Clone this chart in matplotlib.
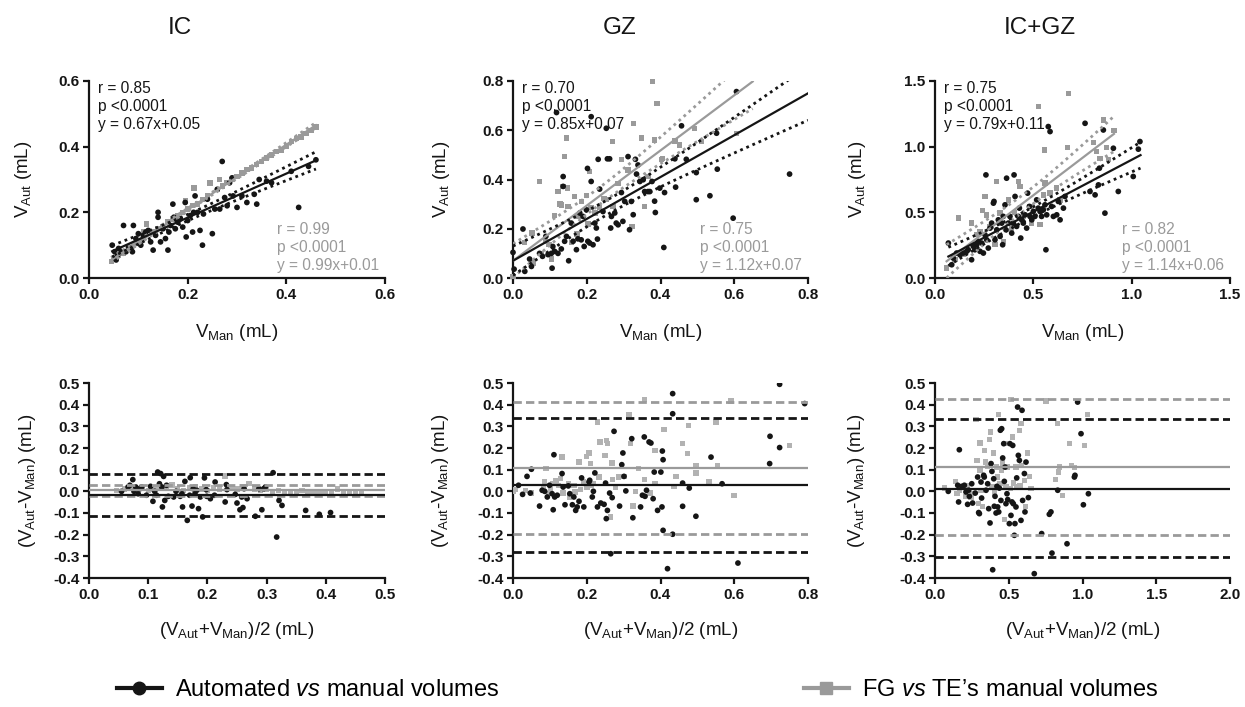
import numpy as np
import matplotlib
matplotlib.use('Agg')
import matplotlib.pyplot as plt
from matplotlib.lines import Line2D

plt.rcParams['font.family'] = ['Liberation Sans', 'DejaVu Sans']
plt.rcParams['mathtext.fontset'] = 'custom'
plt.rcParams['mathtext.rm'] = 'Liberation Sans'
plt.rcParams['mathtext.it'] = 'Liberation Sans:italic'
plt.rcParams['mathtext.bf'] = 'Liberation Sans:bold'
plt.rcParams['axes.unicode_minus'] = False

# ---------------- data ----------------
titles = ["IC", "GZ", "IC+GZ"]

# correlation panels: (V_Man, V_Aut)
ic_auto = [(0.047, 0.10), (0.052, 0.08), (0.055, 0.055), (0.058, 0.07), (0.06, 0.09), (0.065, 0.08),
           (0.07, 0.16), (0.075, 0.08), (0.08, 0.095), (0.085, 0.09), (0.088, 0.08), (0.09, 0.16),
           (0.095, 0.12), (0.10, 0.135), (0.105, 0.10), (0.11, 0.13), (0.115, 0.14), (0.12, 0.145),
           (0.125, 0.11), (0.13, 0.085), (0.135, 0.13), (0.14, 0.20), (0.14, 0.185), (0.145, 0.11),
           (0.15, 0.15), (0.155, 0.12), (0.16, 0.085), (0.162, 0.14), (0.165, 0.16), (0.17, 0.225),
           (0.172, 0.185), (0.175, 0.15), (0.18, 0.17), (0.185, 0.18), (0.19, 0.155), (0.195, 0.23),
           (0.197, 0.125), (0.20, 0.175), (0.205, 0.19), (0.21, 0.14), (0.212, 0.20), (0.215, 0.25),
           (0.22, 0.20), (0.225, 0.145), (0.23, 0.10), (0.232, 0.195), (0.24, 0.24), (0.25, 0.135),
           (0.255, 0.21), (0.26, 0.27), (0.265, 0.21), (0.27, 0.355), (0.275, 0.245), (0.28, 0.22),
           (0.285, 0.29), (0.29, 0.305), (0.292, 0.25), (0.30, 0.215), (0.31, 0.25), (0.32, 0.23),
           (0.335, 0.255), (0.34, 0.225), (0.345, 0.30), (0.36, 0.295), (0.37, 0.29), (0.41, 0.325),
           (0.425, 0.215), (0.445, 0.34), (0.46, 0.36)]
ic_fgte = [(0.045, 0.05), (0.05, 0.06), (0.06, 0.07), (0.07, 0.075), (0.08, 0.09), (0.09, 0.10),
           (0.10, 0.11), (0.11, 0.14), (0.117, 0.165), (0.13, 0.14), (0.14, 0.15), (0.15, 0.155),
           (0.16, 0.17), (0.17, 0.18), (0.18, 0.19), (0.19, 0.20), (0.195, 0.235), (0.20, 0.21),
           (0.21, 0.22), (0.213, 0.274), (0.22, 0.225), (0.23, 0.24), (0.24, 0.25), (0.245, 0.289),
           (0.26, 0.27), (0.265, 0.30), (0.27, 0.28), (0.28, 0.29), (0.29, 0.30), (0.30, 0.31),
           (0.31, 0.32), (0.32, 0.33), (0.33, 0.335), (0.34, 0.345), (0.35, 0.355), (0.36, 0.365),
           (0.37, 0.375), (0.38, 0.385), (0.39, 0.39), (0.40, 0.40), (0.41, 0.415), (0.42, 0.425),
           (0.43, 0.43), (0.44, 0.44), (0.45, 0.45), (0.46, 0.46)]

gz_auto = [(0.0, 0.104), (0.003, 0.036), (0.027, 0.199), (0.032, 0.027), (0.045, 0.077), (0.05, 0.047),
           (0.072, 0.10), (0.08, 0.088), (0.089, 0.169), (0.095, 0.095), (0.104, 0.10), (0.106, 0.04),
           (0.108, 0.128), (0.113, 0.108), (0.118, 0.672), (0.122, 0.10), (0.131, 0.118), (0.136, 0.412),
           (0.136, 0.372), (0.14, 0.149), (0.145, 0.169), (0.151, 0.07), (0.158, 0.223), (0.163, 0.149),
           (0.172, 0.115), (0.176, 0.159), (0.181, 0.264), (0.185, 0.155), (0.19, 0.25), (0.193, 0.128),
           (0.199, 0.277), (0.202, 0.445), (0.203, 0.149), (0.208, 0.142), (0.212, 0.655), (0.212, 0.392),
           (0.217, 0.135), (0.222, 0.223), (0.226, 0.203), (0.229, 0.158), (0.231, 0.482), (0.235, 0.361),
           (0.244, 0.27), (0.253, 0.608), (0.256, 0.484), (0.262, 0.484), (0.265, 0.203), (0.267, 0.25),
           (0.276, 0.264), (0.28, 0.223), (0.285, 0.216), (0.294, 0.347), (0.298, 0.23), (0.303, 0.311),
           (0.312, 0.493), (0.316, 0.196), (0.321, 0.311), (0.326, 0.257), (0.332, 0.482), (0.335, 0.422),
           (0.339, 0.459), (0.344, 0.392), (0.353, 0.399), (0.357, 0.351), (0.366, 0.351), (0.371, 0.351),
           (0.377, 0.392), (0.384, 0.312), (0.386, 0.266), (0.398, 0.365), (0.411, 0.347), (0.409, 0.124),
           (0.439, 0.484), (0.441, 0.369), (0.457, 0.618), (0.47, 0.482), (0.497, 0.318), (0.497, 0.428),
           (0.534, 0.334), (0.552, 0.588), (0.554, 0.442), (0.597, 0.243), (0.606, 0.757), (0.75, 0.422)]
gz_fgte = [(0.0, 0.007), (0.032, 0.145), (0.052, 0.182), (0.054, 0.061), (0.072, 0.392), (0.077, 0.10),
           (0.09, 0.149), (0.098, 0.135), (0.104, 0.077), (0.113, 0.253), (0.122, 0.351), (0.127, 0.301),
           (0.131, 0.297), (0.136, 0.372), (0.14, 0.493), (0.145, 0.568), (0.147, 0.365), (0.149, 0.291),
           (0.158, 0.145), (0.167, 0.331), (0.174, 0.178), (0.176, 0.25), (0.185, 0.311), (0.199, 0.334),
           (0.203, 0.22), (0.208, 0.432), (0.212, 0.286), (0.222, 0.264), (0.235, 0.286), (0.247, 0.324),
           (0.253, 0.318), (0.269, 0.555), (0.271, 0.291), (0.285, 0.385), (0.294, 0.482), (0.312, 0.439),
           (0.326, 0.628), (0.323, 0.209), (0.348, 0.568), (0.357, 0.291), (0.366, 0.412), (0.379, 0.797),
           (0.384, 0.561), (0.391, 0.709), (0.402, 0.48), (0.406, 0.486), (0.439, 0.557), (0.452, 0.54),
           (0.493, 0.608), (0.511, 0.554), (0.606, 0.588)]

icgz_auto = [(0.068, 0.266), (0.085, 0.101), (0.093, 0.152), (0.11, 0.19), (0.127, 0.177), (0.144, 0.19),
             (0.161, 0.203), (0.169, 0.215), (0.186, 0.139), (0.195, 0.241), (0.203, 0.215), (0.212, 0.253),
             (0.22, 0.279), (0.229, 0.203), (0.237, 0.266), (0.246, 0.19), (0.254, 0.329), (0.259, 0.785),
             (0.263, 0.291), (0.271, 0.228), (0.28, 0.38), (0.288, 0.418), (0.297, 0.57), (0.3, 0.583),
             (0.305, 0.291), (0.314, 0.367), (0.322, 0.443), (0.331, 0.317), (0.339, 0.418), (0.344, 0.253),
             (0.347, 0.469), (0.356, 0.557), (0.361, 0.367), (0.364, 0.76), (0.373, 0.418), (0.381, 0.469),
             (0.39, 0.342), (0.398, 0.418), (0.402, 0.785), (0.407, 0.621), (0.415, 0.393), (0.424, 0.469),
             (0.429, 0.532), (0.436, 0.304), (0.441, 0.443), (0.449, 0.418), (0.458, 0.481), (0.466, 0.38),
             (0.471, 0.646), (0.48, 0.545), (0.483, 0.469), (0.492, 0.443), (0.5, 0.507), (0.508, 0.469),
             (0.517, 0.595), (0.525, 0.532), (0.534, 0.507), (0.542, 0.469), (0.551, 0.519), (0.559, 0.557),
             (0.564, 0.215), (0.568, 0.481), (0.576, 1.153), (0.585, 1.115), (0.593, 0.545), (0.602, 0.469),
             (0.619, 0.481), (0.627, 0.583), (0.636, 0.443), (0.653, 0.532), (0.661, 0.621), (0.763, 1.178),
             (0.788, 0.659), (0.814, 0.633), (0.831, 0.709), (0.836, 0.836), (0.864, 0.494), (0.856, 1.127),
             (0.907, 0.988), (0.932, 0.659), (1.008, 0.773), (1.034, 0.981), (1.042, 1.039)]
icgz_fgte = [(0.059, 0.076), (0.102, 0.139), (0.119, 0.456), (0.144, 0.177), (0.186, 0.418), (0.212, 0.329),
             (0.229, 0.355), (0.242, 0.512), (0.254, 0.621), (0.263, 0.481), (0.28, 0.393), (0.305, 0.253),
             (0.314, 0.735), (0.331, 0.494), (0.347, 0.279), (0.373, 0.595), (0.39, 0.38), (0.403, 0.499),
             (0.424, 0.735), (0.432, 0.697), (0.449, 0.469), (0.483, 0.545), (0.492, 0.418), (0.525, 1.305),
             (0.534, 0.405), (0.551, 0.633), (0.556, 0.975), (0.559, 0.722), (0.585, 0.646), (0.619, 0.684),
             (0.636, 0.595), (0.678, 1.406), (0.673, 0.996), (0.805, 1.031), (0.822, 0.963), (0.839, 0.912),
             (0.856, 1.203), (0.873, 0.996), (0.881, 0.9), (0.91, 1.122)]

# regression results shown on the panels: slope, intercept, r
fit_auto = [(0.67, 0.05, "0.85"), (0.85, 0.07, "0.70"), (0.79, 0.11, "0.75")]
fit_fgte = [(0.99, 0.01, "0.99"), (1.12, 0.07, "0.75"), (1.14, 0.06, "0.82")]
fit_range_auto = [(0.047, 0.46), (0.0, 0.8), (0.068, 1.045)]
fit_range_fgte = [(0.045, 0.46), (0.0, 0.65), (0.059, 0.91)]

# Bland-Altman panels: (mean, difference)
ic_ba_auto = [(0.055, 0.0), (0.066, 0.02), (0.069, 0.028), (0.074, 0.054), (0.076, 0.0), (0.079, 0.02),
              (0.083, -0.011), (0.086, 0.012), (0.089, 0.02), (0.097, -0.018), (0.104, 0.023), (0.108, -0.046),
              (0.111, 0.0), (0.114, -0.018), (0.116, 0.089), (0.119, 0.035), (0.121, 0.082), (0.123, 0.02),
              (0.124, -0.072), (0.126, 0.069), (0.128, -0.042), (0.131, 0.028), (0.134, -0.023), (0.143, -0.026),
              (0.147, 0.0), (0.154, -0.023), (0.157, -0.011), (0.158, -0.072), (0.162, 0.046), (0.166, -0.134),
              (0.17, -0.018), (0.171, 0.063), (0.174, -0.068), (0.176, 0.012), (0.179, -0.011), (0.182, 0.005),
              (0.185, -0.08), (0.188, -0.026), (0.192, -0.118), (0.195, 0.062), (0.198, 0.008), (0.199, -0.023),
              (0.205, -0.034), (0.212, -0.018), (0.213, 0.043), (0.23, -0.049), (0.232, 0.031), (0.233, 0.008),
              (0.247, -0.014), (0.25, -0.054), (0.255, -0.085), (0.258, -0.026), (0.26, -0.075), (0.262, 0.012),
              (0.267, -0.034), (0.281, -0.115), (0.287, 0.012), (0.292, -0.085), (0.295, 0.012), (0.298, 0.02),
              (0.311, 0.086), (0.317, -0.211), (0.321, -0.042), (0.326, -0.065), (0.366, -0.088), (0.389, -0.106),
              (0.408, -0.098)]
ic_ba_fgte = [(0.046, 0.005), (0.06, 0.01), (0.07, 0.02), (0.08, 0.01), (0.09, 0.015), (0.10, 0.005),
              (0.11, 0.01), (0.12, 0.02), (0.13, 0.015), (0.14, 0.03), (0.15, 0.01), (0.16, 0.005),
              (0.17, 0.015), (0.18, 0.02), (0.19, 0.01), (0.20, 0.005), (0.21, 0.015), (0.22, 0.01),
              (0.23, 0.07), (0.24, 0.015), (0.25, 0.01), (0.26, 0.02), (0.27, 0.035), (0.28, 0.01),
              (0.29, 0.005), (0.30, 0.01), (0.31, 0.0), (0.32, 0.005), (0.33, 0.0), (0.34, -0.005),
              (0.35, 0.0), (0.36, 0.005), (0.37, -0.005), (0.38, 0.0), (0.39, 0.0), (0.40, -0.005),
              (0.41, 0.0), (0.42, 0.01), (0.43, 0.0), (0.44, -0.005), (0.45, 0.0), (0.46, -0.005)]

gz_ba_auto = [(0.015, 0.028), (0.026, -0.014), (0.038, 0.069), (0.047, -0.008), (0.05, 0.102), (0.072, -0.068),
              (0.079, 0.005), (0.086, 0.0), (0.093, -0.026), (0.099, 0.028), (0.106, -0.011), (0.109, -0.085),
              (0.111, 0.169), (0.113, -0.026), (0.12, -0.018), (0.133, 0.082), (0.136, 0.02), (0.141, -0.062),
              (0.15, 0.025), (0.154, -0.011), (0.161, -0.062), (0.165, -0.026), (0.17, -0.088), (0.174, -0.072),
              (0.179, -0.046), (0.186, 0.062), (0.192, -0.072), (0.206, 0.043), (0.208, 0.051), (0.215, -0.026),
              (0.218, 0.0), (0.222, 0.085), (0.229, -0.072), (0.238, -0.054), (0.247, -0.06), (0.251, 0.038),
              (0.253, -0.126), (0.256, -0.088), (0.262, -0.008), (0.265, -0.288), (0.269, -0.029), (0.274, 0.277),
              (0.289, -0.068), (0.295, 0.123), (0.298, 0.177), (0.301, 0.069), (0.306, 0.002), (0.322, 0.243),
              (0.325, -0.122), (0.346, -0.072), (0.351, -0.018), (0.356, 0.251), (0.358, -0.023), (0.362, 0.005),
              (0.369, 0.228), (0.374, 0.223), (0.38, -0.034), (0.383, 0.089), (0.392, -0.088), (0.401, 0.089),
              (0.404, -0.072), (0.405, 0.186), (0.407, 0.146), (0.407, -0.18), (0.433, 0.451), (0.433, 0.358),
              (0.433, -0.198), (0.419, -0.357), (0.46, 0.038), (0.46, -0.069), (0.478, 0.015), (0.496, -0.115),
              (0.537, 0.158), (0.567, 0.035), (0.61, -0.331), (0.696, 0.128), (0.697, 0.254), (0.723, 0.494),
              (0.723, 0.202), (0.791, 0.405)]
gz_ba_fgte = [(0.0, 0.0), (0.006, 0.008), (0.034, 0.005), (0.05, -0.008), (0.083, 0.02), (0.086, 0.046),
              (0.09, 0.105), (0.097, -0.011), (0.102, 0.012), (0.108, 0.035), (0.117, 0.051), (0.124, 0.028),
              (0.129, 0.058), (0.133, 0.158), (0.136, -0.008), (0.151, 0.035), (0.154, -0.026), (0.165, 0.028),
              (0.168, -0.003), (0.179, 0.135), (0.183, 0.008), (0.192, 0.046), (0.199, 0.162), (0.201, 0.02),
              (0.206, 0.177), (0.21, 0.128), (0.213, 0.028), (0.219, 0.035), (0.229, 0.32), (0.233, 0.066),
              (0.236, 0.228), (0.249, 0.166), (0.253, 0.235), (0.256, 0.22), (0.265, -0.118), (0.268, 0.131),
              (0.269, 0.054), (0.278, 0.02), (0.286, 0.066), (0.301, 0.069), (0.315, 0.355), (0.319, 0.22),
              (0.325, -0.068), (0.333, 0.0), (0.34, 0.105), (0.356, 0.423), (0.356, 0.055), (0.372, -0.008),
              (0.385, 0.189), (0.385, 0.035), (0.41, 0.285), (0.437, 0.023), (0.442, 0.069), (0.46, 0.22),
              (0.473, 0.174), (0.476, 0.305), (0.496, 0.12), (0.496, 0.085), (0.532, 0.043), (0.551, 0.32),
              (0.555, 0.12), (0.591, 0.417), (0.599, -0.018), (0.75, 0.212)]

icgz_ba_auto = [(0.09, 0.0), (0.154, 0.028), (0.16, -0.049), (0.165, 0.192), (0.181, 0.023), (0.199, 0.028),
                (0.21, -0.003), (0.221, -0.06), (0.228, 0.005), (0.233, -0.023), (0.249, 0.035), (0.255, -0.054),
                (0.273, -0.008), (0.289, 0.066), (0.296, -0.098), (0.301, -0.103), (0.312, 0.043), (0.316, -0.031),
                (0.33, 0.074), (0.334, 0.066), (0.346, 0.005), (0.357, 0.035), (0.364, -0.08), (0.373, -0.146),
                (0.38, 0.128), (0.386, 0.092), (0.391, -0.362), (0.398, 0.058), (0.402, -0.069), (0.407, -0.023),
                (0.414, -0.1), (0.42, 0.023), (0.425, -0.072), (0.432, -0.095), (0.436, 0.015), (0.443, 0.282),
                (0.447, -0.042), (0.452, 0.289), (0.459, 0.154), (0.466, 0.22), (0.47, 0.046), (0.475, 0.112),
                (0.481, -0.057), (0.488, -0.011), (0.493, -0.038), (0.504, -0.149), (0.508, 0.22), (0.515, -0.111),
                (0.522, -0.049), (0.527, 0.212), (0.531, -0.057), (0.538, -0.203), (0.542, -0.149), (0.549, -0.072),
                (0.554, 0.062), (0.56, 0.389), (0.565, 0.166), (0.572, 0.143), (0.583, -0.134), (0.59, 0.374),
                (0.594, -0.042), (0.606, 0.082), (0.61, -0.095), (0.617, 0.135), (0.633, -0.029), (0.673, -0.38),
                (0.723, -0.195), (0.775, -0.106), (0.786, -0.095), (0.793, -0.285), (0.832, 0.005), (0.895, -0.242),
                (0.945, 0.066), (0.949, 0.074), (0.967, 0.412), (0.99, 0.266), (1.006, -0.062), (1.04, -0.011)]
icgz_ba_fgte = [(0.063, 0.015), (0.138, 0.046), (0.149, -0.011), (0.165, 0.005), (0.188, 0.02), (0.206, -0.023),
                (0.221, 0.028), (0.244, -0.026), (0.255, -0.011), (0.278, 0.331), (0.285, 0.143), (0.294, -0.057),
                (0.305, 0.097), (0.305, 0.223), (0.312, 0.005), (0.323, -0.069), (0.334, 0.189), (0.341, 0.135),
                (0.357, 0.115), (0.368, 0.238), (0.375, 0.274), (0.386, 0.02), (0.398, 0.177), (0.402, -0.008),
                (0.418, 0.112), (0.425, 0.066), (0.432, 0.354), (0.441, 0.035), (0.452, 0.097), (0.459, 0.131),
                (0.47, -0.131), (0.475, 0.22), (0.481, 0.02), (0.493, 0.112), (0.511, 0.012), (0.515, 0.423),
                (0.527, 0.251), (0.533, 0.038), (0.549, 0.112), (0.556, 0.02), (0.572, 0.282), (0.576, 0.028),
                (0.583, 0.312), (0.588, 0.12), (0.606, 0.051), (0.612, -0.069), (0.628, 0.177), (0.64, 0.069),
                (0.651, 0.012), (0.753, 0.417), (0.816, 0.054), (0.832, 0.312), (0.838, 0.089), (0.843, 0.112),
                (0.866, -0.018), (0.911, 0.22), (0.927, 0.12), (0.945, 0.109), (1.012, 0.212), (1.035, 0.354)]

# Bland-Altman bias and limits of agreement: (bias, lower, upper)
ba_auto = [(-0.015, -0.115, 0.08), (0.031, -0.28, 0.34), (0.013, -0.305, 0.333)]
ba_fgte = [(0.005, -0.023, 0.028), (0.109, -0.195, 0.412), (0.113, -0.2, 0.425)]

top_xmax = [0.6, 0.8, 1.5]
top_ymax = [0.6, 0.8, 1.5]
top_step = [0.2, 0.2, 0.5]
bot_xmax = [0.5, 0.8, 2.0]
bot_xstep = [0.1, 0.2, 0.5]

corr_auto = [ic_auto, gz_auto, icgz_auto]
corr_fgte = [ic_fgte, gz_fgte, icgz_fgte]
bland_auto = [ic_ba_auto, gz_ba_auto, icgz_ba_auto]
bland_fgte = [ic_ba_fgte, gz_ba_fgte, icgz_ba_fgte]

BLACK = '#151515'
GREY = '#9a9a9a'
LGREY = '#b2b2b2'
DOT = (0, (1, 1.4))
DASH = (0, (3, 1.5))


def ci_band(pts, slope, icpt, xs):
    x, y = np.array(pts).T
    n = len(x)
    res = y - (slope * x + icpt)
    s = np.sqrt(np.sum(res ** 2) / (n - 2))
    xm = x.mean()
    sxx = np.sum((x - xm) ** 2)
    h = 1.98 * s * np.sqrt(1.0 / n + (xs - xm) ** 2 / sxx)
    fit = slope * xs + icpt
    return fit - h, fit + h


def style_axes(ax):
    for sp in ['top', 'right']:
        ax.spines[sp].set_visible(False)
    for sp in ['left', 'bottom']:
        ax.spines[sp].set_linewidth(1.6)
        ax.spines[sp].set_color(BLACK)
    ax.tick_params(direction='out', length=4, width=1.6, labelsize=11, pad=3, colors=BLACK)
    for lab in ax.get_xticklabels() + ax.get_yticklabels():
        lab.set_fontweight('bold')


fig = plt.figure(figsize=(12.45, 7.07), dpi=100)

lefts = [89, 513, 935]
widths = [296, 295, 295]
W, H = 1245.0, 707.0
title_x = [180, 620, 1040]
ylab_top = [-0.185, -0.208, -0.228]
ylab_bot = [-0.171, -0.21, -0.23]

for i in range(3):
    # ---- correlation panel ----
    ax = fig.add_axes([lefts[i] / W, (H - 278) / H, widths[i] / W, 197 / H])
    ax.set_xlim(0, top_xmax[i])
    ax.set_ylim(0, top_ymax[i])
    ticks = np.arange(0, top_xmax[i] + 1e-9, top_step[i])
    ax.set_xticks(ticks)
    ax.set_yticks(ticks)
    ax.set_xticklabels(["%.1f" % t for t in ticks])
    ax.set_yticklabels(["%.1f" % t for t in ticks])

    for pts, fit, rng, col, mk, ms in [(corr_fgte[i], fit_fgte[i], fit_range_fgte[i], GREY, 's', 15),
                                       (corr_auto[i], fit_auto[i], fit_range_auto[i], BLACK, 'o', 17)]:
        x, y = np.array(pts).T
        ax.scatter(x, y, s=ms, marker=mk, color=col, edgecolors='none', zorder=3, clip_on=False)
        xs = np.linspace(rng[0], rng[1], 100)
        lo, hi = ci_band(pts, fit[0], fit[1], xs)
        ax.plot(xs, fit[0] * xs + fit[1], color=col, lw=1.6, zorder=4)
        ax.plot(xs, lo, color=col, lw=2.0, ls=DOT, zorder=4)
        ax.plot(xs, hi, color=col, lw=2.0, ls=DOT, zorder=4)

    sa, ia, ra = fit_auto[i]
    sg, ig, rg = fit_fgte[i]
    ax.text(0.03, 1.0, "r = %s\np <0.0001\ny = %.2fx+%.2f" % (ra, sa, ia),
            transform=ax.transAxes, ha='left', va='top', fontsize=11.2, color=BLACK,
            linespacing=1.25, zorder=5)
    ax.text(0.635, 0.025, "r = %s\np <0.0001\ny = %.2fx+%.2f" % (rg, sg, ig),
            transform=ax.transAxes, ha='left', va='bottom', fontsize=11.2, color=GREY,
            linespacing=1.25, zorder=5)

    ax.set_xlabel(r"V$_{\mathrm{Man}}$ (mL)", fontsize=13.5, color=BLACK)
    ax.set_ylabel(r"V$_{\mathrm{Aut}}$ (mL)", fontsize=13.5, color=BLACK)
    ax.xaxis.set_label_coords(0.5, -0.225)
    ax.yaxis.set_label_coords(ylab_top[i], 0.5)
    style_axes(ax)

    fig.text(title_x[i] / W, (H - 28) / H, titles[i], fontsize=17.5, ha='center', va='center',
             color=BLACK)

    # ---- Bland-Altman panel ----
    bx = fig.add_axes([lefts[i] / W, (H - 578) / H, widths[i] / W, 195 / H])
    bx.set_xlim(0, bot_xmax[i])
    bx.set_ylim(-0.4, 0.5)
    xt = np.arange(0, bot_xmax[i] + 1e-9, bot_xstep[i])
    yt = np.arange(-0.4, 0.5 + 1e-9, 0.1)
    bx.set_xticks(xt)
    bx.set_yticks(yt)
    bx.set_xticklabels(["%.1f" % t for t in xt])
    bx.set_yticklabels(["%.1f" % t if abs(t) > 1e-9 else "0.0" for t in yt])

    xg, yg = np.array(bland_fgte[i]).T
    bx.scatter(xg, yg, s=15, marker='s', color=LGREY, edgecolors='none', zorder=3)
    xb, yb = np.array(bland_auto[i]).T
    bx.scatter(xb, yb, s=17, marker='o', color=BLACK, edgecolors='none', zorder=3)

    bias, lo, hi = ba_fgte[i]
    bx.axhline(bias, color=GREY, lw=1.6, zorder=4)
    bx.axhline(lo, color=GREY, lw=2.0, ls=DASH, zorder=4)
    bx.axhline(hi, color=GREY, lw=2.0, ls=DASH, zorder=4)
    bias, lo, hi = ba_auto[i]
    bx.axhline(bias, color=BLACK, lw=1.6, zorder=4)
    bx.axhline(lo, color=BLACK, lw=2.0, ls=DASH, zorder=4)
    bx.axhline(hi, color=BLACK, lw=2.0, ls=DASH, zorder=4)

    bx.set_xlabel(r"(V$_{\mathrm{Aut}}$+V$_{\mathrm{Man}}$)/2 (mL)", fontsize=13.5, color=BLACK)
    bx.set_ylabel(r"(V$_{\mathrm{Aut}}$-V$_{\mathrm{Man}}$) (mL)", fontsize=13.5, color=BLACK)
    bx.xaxis.set_label_coords(0.5, -0.215)
    bx.yaxis.set_label_coords(ylab_bot[i], 0.5)
    style_axes(bx)

# ---- legend ----
h1 = Line2D([], [], color=BLACK, lw=3, marker='o', markersize=9)
h2 = Line2D([], [], color=GREY, lw=3, marker='s', markersize=9)
fig.legend(handles=[h1], labels=[r"Automated $\mathit{vs}$ manual volumes"], loc='center left',
           bbox_to_anchor=(117 / W, 17 / H), frameon=False, fontsize=17, handlelength=1.9,
           handletextpad=0.55, borderpad=0, borderaxespad=0)
fig.legend(handles=[h2], labels=[r"FG $\mathit{vs}$ TE’s manual volumes"], loc='center left',
           bbox_to_anchor=(804 / W, 17 / H), frameon=False, fontsize=17, handlelength=1.9,
           handletextpad=0.55, borderpad=0, borderaxespad=0)

fig.savefig('out.png', dpi=100)
